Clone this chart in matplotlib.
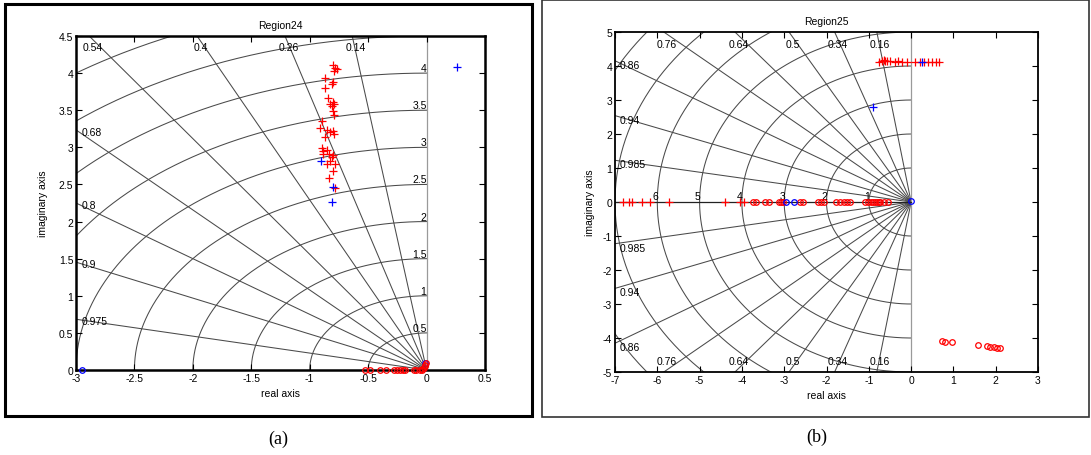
import numpy as np
import matplotlib
matplotlib.use("Agg")
import matplotlib.pyplot as plt
from matplotlib.patches import Rectangle
from matplotlib.ticker import FormatStrFormatter

plt.rcParams['font.family'] = ['Liberation Sans', 'DejaVu Sans']
plt.rcParams['axes.unicode_minus'] = False

# ---- panel (a): Region24 ----
zeta_a = [0.14, 0.26, 0.4, 0.54, 0.68, 0.8, 0.9, 0.975]
zeta_a_top = [0.54, 0.4, 0.26, 0.14]
zeta_a_left = [0.68, 0.8, 0.9, 0.975]
wn_a = [0.5, 1, 1.5, 2, 2.5, 3, 3.5, 4, 4.5, 5, 5.5]
wn_a_labels = [0.5, 1, 1.5, 2, 2.5, 3, 3.5, 4]

# red poles (+)
pa_red_x = [-0.804, -0.784, -0.769, -0.792, -0.869, -0.798, -0.807, -0.869, -0.841, -0.826,
            -0.803, -0.812, -0.792, -0.798, -0.792, -0.892, -0.912, -0.855, -0.826, -0.798,
            -0.790, -0.869, -0.897, -0.883, -0.889, -0.855, -0.832, -0.812, -0.798, -0.826,
            -0.855, -0.784, -0.798, -0.832, -0.784]
pa_red_y = [4.11, 4.07, 4.05, 4.03, 3.93, 3.88, 3.85, 3.80, 3.67, 3.59,
            3.61, 3.56, 3.58, 3.49, 3.43, 3.36, 3.26, 3.23, 3.20, 3.22,
            3.18, 3.14, 2.99, 2.95, 2.91, 2.96, 2.91, 2.87, 2.89, 2.82,
            2.78, 2.78, 2.68, 2.59, 2.45]
# blue poles (+)
pa_blue_x = [0.257, -0.906, -0.804, -0.807]
pa_blue_y = [4.08, 2.81, 2.47, 2.26]
# red zeros (o)
za_red_x = [-0.527, -0.487, -0.399, -0.349, -0.275, -0.252, -0.226, -0.205, -0.188,
            -0.110, -0.088, -0.057, -0.042, -0.035, -0.025, -0.015, -0.010, -0.005]
za_red_y = [0, 0, 0, 0, 0, 0, 0, 0, 0,
            0, 0, 0, 0, 0.01, 0.03, 0.05, 0.07, 0.09]
# blue zeros (o)
za_blue_x = [-2.95, -0.012]
za_blue_y = [0, 0.10]

# ---- panel (b): Region25 ----
zeta_b = [0.16, 0.34, 0.5, 0.64, 0.76, 0.86, 0.94, 0.985]
zeta_b_top = [0.76, 0.64, 0.5, 0.34, 0.16]
zeta_b_left = [0.86, 0.94, 0.985]
wn_b = [1, 2, 3, 4, 5, 6, 7, 8]
wn_b_labels = [1, 2, 3, 4, 5, 6]

pb_red_x = [-6.82, -6.66, -6.60, -6.37, -6.17, -5.72, -4.39, -4.04, -3.96,
            -0.77, -0.69, -0.65, -0.61, -0.57, -0.51, -0.38, -0.30, -0.22, -0.10,
            0.09, 0.21, 0.31, 0.41, 0.49, 0.59, 0.67]
pb_red_y = [0, 0, 0, 0, 0, 0, 0, 0, 0,
            4.13, 4.15, 4.17, 4.16, 4.14, 4.15, 4.13, 4.14, 4.12, 4.13,
            4.12, 4.13, 4.11, 4.13, 4.12, 4.13, 4.12]
pb_blue_x = [0.25, -0.905]
pb_blue_y = [4.11, 2.80]
zb_red_x = [-3.73, -3.67, -3.45, -3.37, -3.12, -3.08, -3.04, -2.62, -2.56, -2.19, -2.14,
            -2.06, -1.77, -1.69, -1.58, -1.52, -1.45, -1.10, -1.01, -0.95, -0.90, -0.85,
            -0.81, -0.77, -0.73, -0.65, -0.54,
            0.74, 0.81, 0.96, 1.57, 1.79, 1.87, 1.97, 2.03, 2.09]
zb_red_y = [0] * 27 + [-4.10, -4.13, -4.13, -4.21, -4.24, -4.26, -4.26, -4.28, -4.29]
zb_blue_x = [-2.96, -2.78, 0.0]
zb_blue_y = [0, 0, 0.03]

GRID = '#4a4a4a'
FS = 7.5


def sgrid(ax, zetas, wns, xlim, ylim, both_halves):
    r = np.array([0, 20.0])
    for z in zetas:
        s = np.sqrt(1 - z * z)
        ax.plot(-r * z, r * s, color=GRID, lw=0.75, zorder=1)
        if both_halves:
            ax.plot(-r * z, -r * s, color=GRID, lw=0.75, zorder=1)
    t0 = np.pi / 2
    t1 = 3 * np.pi / 2 if both_halves else np.pi
    th = np.linspace(t0, t1, 300)
    for w in wns:
        ax.plot(w * np.cos(th), w * np.sin(th), color=GRID, lw=0.75, zorder=1)
    ax.plot([0, 0], [ylim[0], ylim[1]], color='#9a9a9a', lw=0.9, zorder=1)
    ax.set_xlim(xlim)
    ax.set_ylim(ylim)


fig = plt.figure(figsize=(10.91, 4.56), dpi=100)

# outer frames
fig.patches.append(Rectangle((5 / 1091, 1 - 417 / 456), 527 / 1091, 412 / 456,
                             transform=fig.transFigure, fill=False, ec='black', lw=2.2))
fig.patches.append(Rectangle((542 / 1091, 1 - 418 / 456), 547 / 1091, 417 / 456,
                             transform=fig.transFigure, fill=False, ec='#333333', lw=1.2))

# ---------- left axes ----------
axa = fig.add_axes([76 / 1091, 1 - 371 / 456, 409 / 1091, 334 / 456])
sgrid(axa, zeta_a, wn_a, (-3, 0.5), (0, 4.5), False)
for z in zeta_a_top:
    xt = -4.5 * z / np.sqrt(1 - z * z)
    axa.text(xt + 0.03, 4.35, f'{z:g}', fontsize=FS, ha='center', va='center', zorder=3)
for z in zeta_a_left:
    yt = 3 * np.sqrt(1 - z * z) / z
    axa.text(-2.95, yt - 0.03, f'{z:g}', fontsize=FS, ha='left', va='center', zorder=3)
for w in wn_a_labels:
    axa.text(0, w, f'{w:g}', fontsize=FS, ha='right', va='bottom', zorder=3)

axa.plot(pa_red_x, pa_red_y, '+', color='red', ms=6, mew=0.9, zorder=4)
axa.plot(pa_blue_x, pa_blue_y, '+', color='blue', ms=6, mew=0.9, zorder=5)
axa.plot(za_blue_x, za_blue_y, 'o', color='blue', mfc='none', ms=4, mew=0.9,
         zorder=4, clip_on=False)
axa.plot(za_red_x, za_red_y, 'o', color='red', mfc='none', ms=4, mew=0.9,
         zorder=5, clip_on=False)

axa.set_xticks(np.arange(-3, 0.51, 0.5))
axa.set_yticks(np.arange(0, 4.51, 0.5))
axa.xaxis.set_major_formatter(FormatStrFormatter('%g'))
axa.yaxis.set_major_formatter(FormatStrFormatter('%g'))
axa.tick_params(direction='in', length=4, width=0.8, labelsize=FS,
                top=True, right=True, pad=2)
for sp in axa.spines.values():
    sp.set_linewidth(1.8)
axa.set_title('Region24', fontsize=FS, pad=6)
axa.set_xlabel('real axis', fontsize=FS, labelpad=4)
axa.set_ylabel('imaginary axis', fontsize=FS, labelpad=8)

# ---------- right axes ----------
axb = fig.add_axes([615 / 1091, 1 - 373 / 456, 423 / 1091, 340 / 456])
sgrid(axb, zeta_b, wn_b, (-7, 3), (-5, 5), True)
axb.plot([-7, 0], [0, 0], color='#222222', lw=0.9, zorder=2)
for z in zeta_b_top:
    xt = -5 * z / np.sqrt(1 - z * z)
    axb.text(xt + 0.08, 4.65, f'{z:g}', fontsize=FS, ha='center', va='center', zorder=3)
    axb.text(xt + 0.08, -4.67, f'{z:g}', fontsize=FS, ha='center', va='center', zorder=3)
for z in zeta_b_left:
    yt = 7 * np.sqrt(1 - z * z) / z
    axb.text(-6.88, yt - 0.12, f'{z:g}', fontsize=FS, ha='left', va='center', zorder=3)
    axb.text(-6.88, -yt - 0.12, f'{z:g}', fontsize=FS, ha='left', va='center', zorder=3)
for w in wn_b_labels:
    axb.text(-w + 0.02, 0.02, f'{w:g}', fontsize=FS, ha='right', va='bottom', zorder=3)

axb.plot(pb_red_x, pb_red_y, '+', color='red', ms=6, mew=0.9, zorder=4)
axb.plot(pb_blue_x, pb_blue_y, '+', color='blue', ms=6, mew=0.9, zorder=5)
axb.plot(zb_red_x, zb_red_y, 'o', color='red', mfc='none', ms=4, mew=0.9, zorder=4)
axb.plot(zb_blue_x, zb_blue_y, 'o', color='blue', mfc='none', ms=4, mew=0.9, zorder=5)

axb.set_xticks(np.arange(-7, 3.1, 1))
axb.set_yticks(np.arange(-5, 5.1, 1))
axb.xaxis.set_major_formatter(FormatStrFormatter('%g'))
axb.yaxis.set_major_formatter(FormatStrFormatter('%g'))
axb.tick_params(direction='in', length=4, width=0.8, labelsize=FS,
                top=True, right=True, pad=2)
for sp in axb.spines.values():
    sp.set_linewidth(1.3)
axb.set_title('Region25', fontsize=FS, pad=6)
axb.set_xlabel('real axis', fontsize=FS, labelpad=4)
axb.set_ylabel('imaginary axis', fontsize=FS, labelpad=6)

# captions
fig.text(278 / 1091, 1 - 439 / 456, '(a)', fontsize=13, ha='center', va='center',
         family=['Liberation Serif', 'DejaVu Serif'])
fig.text(817 / 1091, 1 - 437 / 456, '(b)', fontsize=13, ha='center', va='center',
         family=['Liberation Serif', 'DejaVu Serif'])

fig.savefig('out.png', dpi=100)
